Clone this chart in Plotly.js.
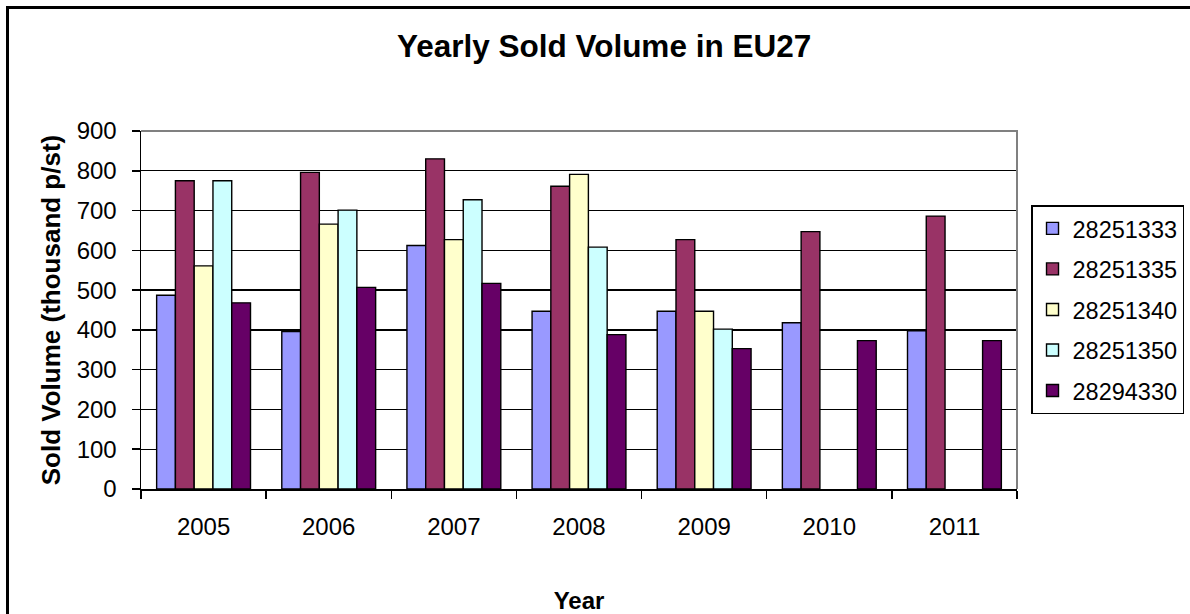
<!DOCTYPE html>
<html>
<head>
<meta charset="utf-8">
<script src="https://cdn.plot.ly/plotly-3.0.1.min.js"></script>
<style>
html,body{margin:0;padding:0;background:#fff;overflow:hidden;}
#frame{position:absolute;left:6px;top:6px;width:1300px;height:700px;border-left:3px solid #000;border-top:3px solid #000;box-sizing:border-box;}
#chart{position:absolute;left:0;top:0;width:1190px;height:614px;}
</style>
</head>
<body>
<div id="frame"></div>
<div id="chart"></div>
<script>
const years = ['2005','2006','2007','2008','2009','2010','2011'];
const seriesNames = ['28251333','28251335','28251340','28251350','28294330'];
const s28251333 = [487, 396, 612, 447, 447, 418, 398];
const s28251335 = [775, 796, 830, 761, 627, 647, 686];
const s28251340 = [561, 666, 627, 791, 447, null, null];
const s28251350 = [775, 701, 727, 608, 402, null, null];
const s28294330 = [468, 507, 517, 388, 353, 373, 373];
const colors = ['#9999FF','#993366','#FFFFCC','#CCFFFF','#660066'];

const values = [s28251333, s28251335, s28251340, s28251350, s28294330];
const FONT = 'Liberation Sans, Arial, sans-serif';

const traces = values.map((v, i) => ({
  type: 'bar',
  name: seriesNames[i],
  x: years,
  y: v,
  legendgroup: 'g' + i,
  marker: {color: colors[i], line: {color: '#000', width: 1.4}},
  hoverinfo: 'x+y+name'
}));

const layout = {
  width: 1190,
  height: 614,
  paper_bgcolor: 'rgba(0,0,0,0)',
  plot_bgcolor: '#fff',
  margin: {l: 141, r: 173, t: 131, b: 124.5, pad: 0},
  barmode: 'group',
  bargap: 0.25,
  bargroupgap: 0,
  font: {family: FONT, size: 24, color: '#000'},
  title: {
    text: 'Yearly Sold Volume in EU27',
    font: {family: FONT, size: 31.5, color: '#000', weight: 'bold'},
    x: 0.5076, xref: 'container', xanchor: 'center',
    y: 0.925, yref: 'container', yanchor: 'middle'
  },
  xaxis: {
    type: 'category',
    showline: true, linecolor: '#000', linewidth: 1.5,
    ticks: 'outside', ticklen: 8, tickcolor: '#000', tickwidth: 1.5,
    tickson: 'boundaries',
    ticklabelstandoff: 16,
    tickfont: {family: FONT, size: 24, color: '#000'},
    showgrid: false,
    title: {text: 'Year', font: {family: FONT, size: 24, color: '#000', weight: 'bold'}, standoff: 56}
  },
  yaxis: {
    range: [0, 900], dtick: 100, tick0: 0,
    showline: true, linecolor: '#000', linewidth: 1.5,
    ticks: 'outside', ticklen: 8, tickcolor: '#000', tickwidth: 1.5,
    ticklabelstandoff: 10,
    tickfont: {family: FONT, size: 24, color: '#000'},
    showgrid: true, gridcolor: '#000', gridwidth: 1.4,
    zeroline: false,
    title: {text: 'Sold Volume (thousand p/st)', font: {family: FONT, size: 26, color: '#000', weight: 'bold'}, standoff: 8}
  },
  shapes: [{
    type: 'path', xref: 'paper', yref: 'paper', layer: 'above',
    path: 'M 0,1 L 1,1 L 1,0',
    line: {color: '#808080', width: 2}
  }],
  legend: {
    xref: 'container', yref: 'container',
    x: 0.8664, xanchor: 'left',
    y: 0.666, yanchor: 'top',
    bordercolor: '#000', borderwidth: 1.5,
    bgcolor: '#fff',
    font: {family: FONT, size: 23.5, color: '#000'},
    traceorder: 'grouped',
    tracegroupgap: 7,
    itemclick: false
  },
  showlegend: true
};

Plotly.newPlot('chart', traces, layout, {displayModeBar: false, staticPlot: true});
</script>
</body>
</html>
